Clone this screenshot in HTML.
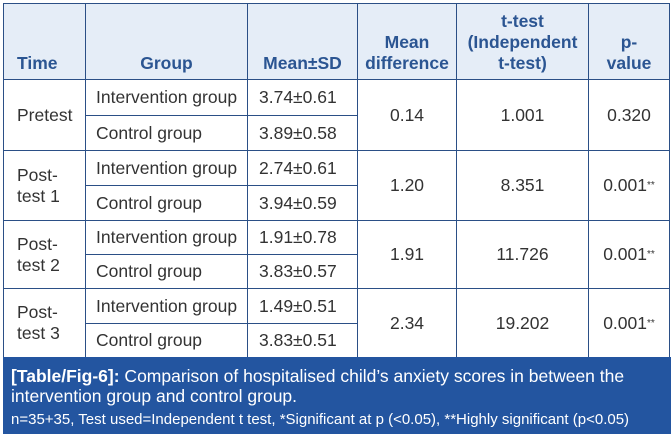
<!DOCTYPE html>
<html><head><meta charset="utf-8"><style>
body{margin:0;width:672px;height:437px;background:#fff;position:relative;font-family:"Liberation Sans",Arial,sans-serif;overflow:hidden}
.h{position:absolute;top:3px;left:3px;width:666px;height:76px;background:#e5edf7}
.l{position:absolute;background:#2b4f86}
.t{position:absolute;font-size:17.5px;color:#333;line-height:21px;display:flex;align-items:center;justify-content:center;text-align:center}
.lf{justify-content:flex-start;padding-left:10px;box-sizing:border-box;text-align:left}
.hd{color:#2b5592;font-weight:bold;font-size:17.5px;align-items:flex-end;padding-bottom:5px;box-sizing:border-box;line-height:21px}
.cap{position:absolute;left:3px;top:357px;width:668px;height:77px;background:#2355a0;color:#fff}
</style></head><body>
<div class="h"></div>
<div class="l" style="left:3px;top:3px;width:667px;height:1px"></div>
<div class="l" style="left:3px;top:79px;width:667px;height:1px"></div>
<div class="l" style="left:3px;top:150px;width:667px;height:1px"></div>
<div class="l" style="left:3px;top:220px;width:667px;height:1px"></div>
<div class="l" style="left:3px;top:288px;width:667px;height:1px"></div>
<div class="l" style="left:85px;top:115px;width:272px;height:1px"></div>
<div class="l" style="left:85px;top:185px;width:272px;height:1px"></div>
<div class="l" style="left:85px;top:254px;width:272px;height:1px"></div>
<div class="l" style="left:85px;top:323px;width:272px;height:1px"></div>
<div class="l" style="left:3px;top:3px;width:1px;height:354px"></div>
<div class="l" style="left:85px;top:3px;width:1px;height:354px"></div>
<div class="l" style="left:247px;top:3px;width:1px;height:354px"></div>
<div class="l" style="left:357px;top:3px;width:1px;height:354px"></div>
<div class="l" style="left:456px;top:3px;width:1px;height:354px"></div>
<div class="l" style="left:588px;top:3px;width:1px;height:354px"></div>
<div class="l" style="left:669px;top:3px;width:1px;height:354px"></div>
<div class="t hd" style="left:4px;top:4px;width:81px;height:75px;justify-content:flex-start;padding-left:13px">Time</div>
<div class="t hd" style="left:86px;top:4px;width:161px;height:75px">Group</div>
<div class="t hd" style="left:248px;top:4px;width:109px;height:75px">Mean±SD</div>
<div class="t hd" style="left:358px;top:4px;width:98px;height:75px">Mean<br>difference</div>
<div class="t hd" style="left:457px;top:4px;width:131px;height:75px">t-test<br>(Independent<br>t-test)</div>
<div class="t hd" style="left:589px;top:4px;width:80px;height:75px">p-<br>value</div>
<div class="t lf" style="left:4px;top:80px;width:81px;height:70px;padding-left:13px">Pretest</div>
<div class="t lf" style="left:4px;top:151px;width:81px;height:69px;padding-left:13px">Post-<br>test 1</div>
<div class="t lf" style="left:4px;top:221px;width:81px;height:67px;padding-left:13px">Post-<br>test 2</div>
<div class="t lf" style="left:4px;top:289px;width:81px;height:68px;padding-left:13px">Post-<br>test 3</div>
<div class="t lf" style="left:86px;top:80px;width:161px;height:35px">Intervention group</div>
<div class="t lf" style="left:86px;top:116px;width:161px;height:34px">Control group</div>
<div class="t lf" style="left:86px;top:151px;width:161px;height:34px">Intervention group</div>
<div class="t lf" style="left:86px;top:186px;width:161px;height:34px">Control group</div>
<div class="t lf" style="left:86px;top:221px;width:161px;height:33px">Intervention group</div>
<div class="t lf" style="left:86px;top:255px;width:161px;height:33px">Control group</div>
<div class="t lf" style="left:86px;top:289px;width:161px;height:34px">Intervention group</div>
<div class="t lf" style="left:86px;top:324px;width:161px;height:33px">Control group</div>
<div class="t lf" style="left:248px;top:80px;width:109px;height:35px;padding-left:11px">3.74±0.61</div>
<div class="t lf" style="left:248px;top:116px;width:109px;height:34px;padding-left:11px">3.89±0.58</div>
<div class="t lf" style="left:248px;top:151px;width:109px;height:34px;padding-left:11px">2.74±0.61</div>
<div class="t lf" style="left:248px;top:186px;width:109px;height:34px;padding-left:11px">3.94±0.59</div>
<div class="t lf" style="left:248px;top:221px;width:109px;height:33px;padding-left:11px">1.91±0.78</div>
<div class="t lf" style="left:248px;top:255px;width:109px;height:33px;padding-left:11px">3.83±0.57</div>
<div class="t lf" style="left:248px;top:289px;width:109px;height:34px;padding-left:11px">1.49±0.51</div>
<div class="t lf" style="left:248px;top:324px;width:109px;height:33px;padding-left:11px">3.83±0.51</div>
<div class="t" style="left:358px;top:80px;width:98px;height:70px">0.14</div>
<div class="t" style="left:358px;top:151px;width:98px;height:69px">1.20</div>
<div class="t" style="left:358px;top:221px;width:98px;height:67px">1.91</div>
<div class="t" style="left:358px;top:289px;width:98px;height:68px">2.34</div>
<div class="t" style="left:457px;top:80px;width:131px;height:70px">1.001</div>
<div class="t" style="left:457px;top:151px;width:131px;height:69px">8.351</div>
<div class="t" style="left:457px;top:221px;width:131px;height:67px">11.726</div>
<div class="t" style="left:457px;top:289px;width:131px;height:68px">19.202</div>
<div class="t" style="left:589px;top:80px;width:80px;height:70px">0.320</div>
<div class="t" style="left:589px;top:151px;width:80px;height:69px">0.001<sup style="font-size:10px">**</sup></div>
<div class="t" style="left:589px;top:221px;width:80px;height:67px">0.001<sup style="font-size:10px">**</sup></div>
<div class="t" style="left:589px;top:289px;width:80px;height:68px">0.001<sup style="font-size:10px">**</sup></div>
<div class="cap">
<div style="position:absolute;left:8px;top:9px;width:650px;font-size:17.5px;line-height:20px"><b>[Table/Fig-6]:</b> Comparison of hospitalised child’s anxiety scores in between the intervention group and control group.</div>
<div style="position:absolute;left:8px;top:54px;font-size:15px;line-height:17px;white-space:nowrap">n=35+35, Test used=Independent t test, *Significant at p (&lt;0.05), **Highly significant (p&lt;0.05)</div>
</div>
</body></html>
